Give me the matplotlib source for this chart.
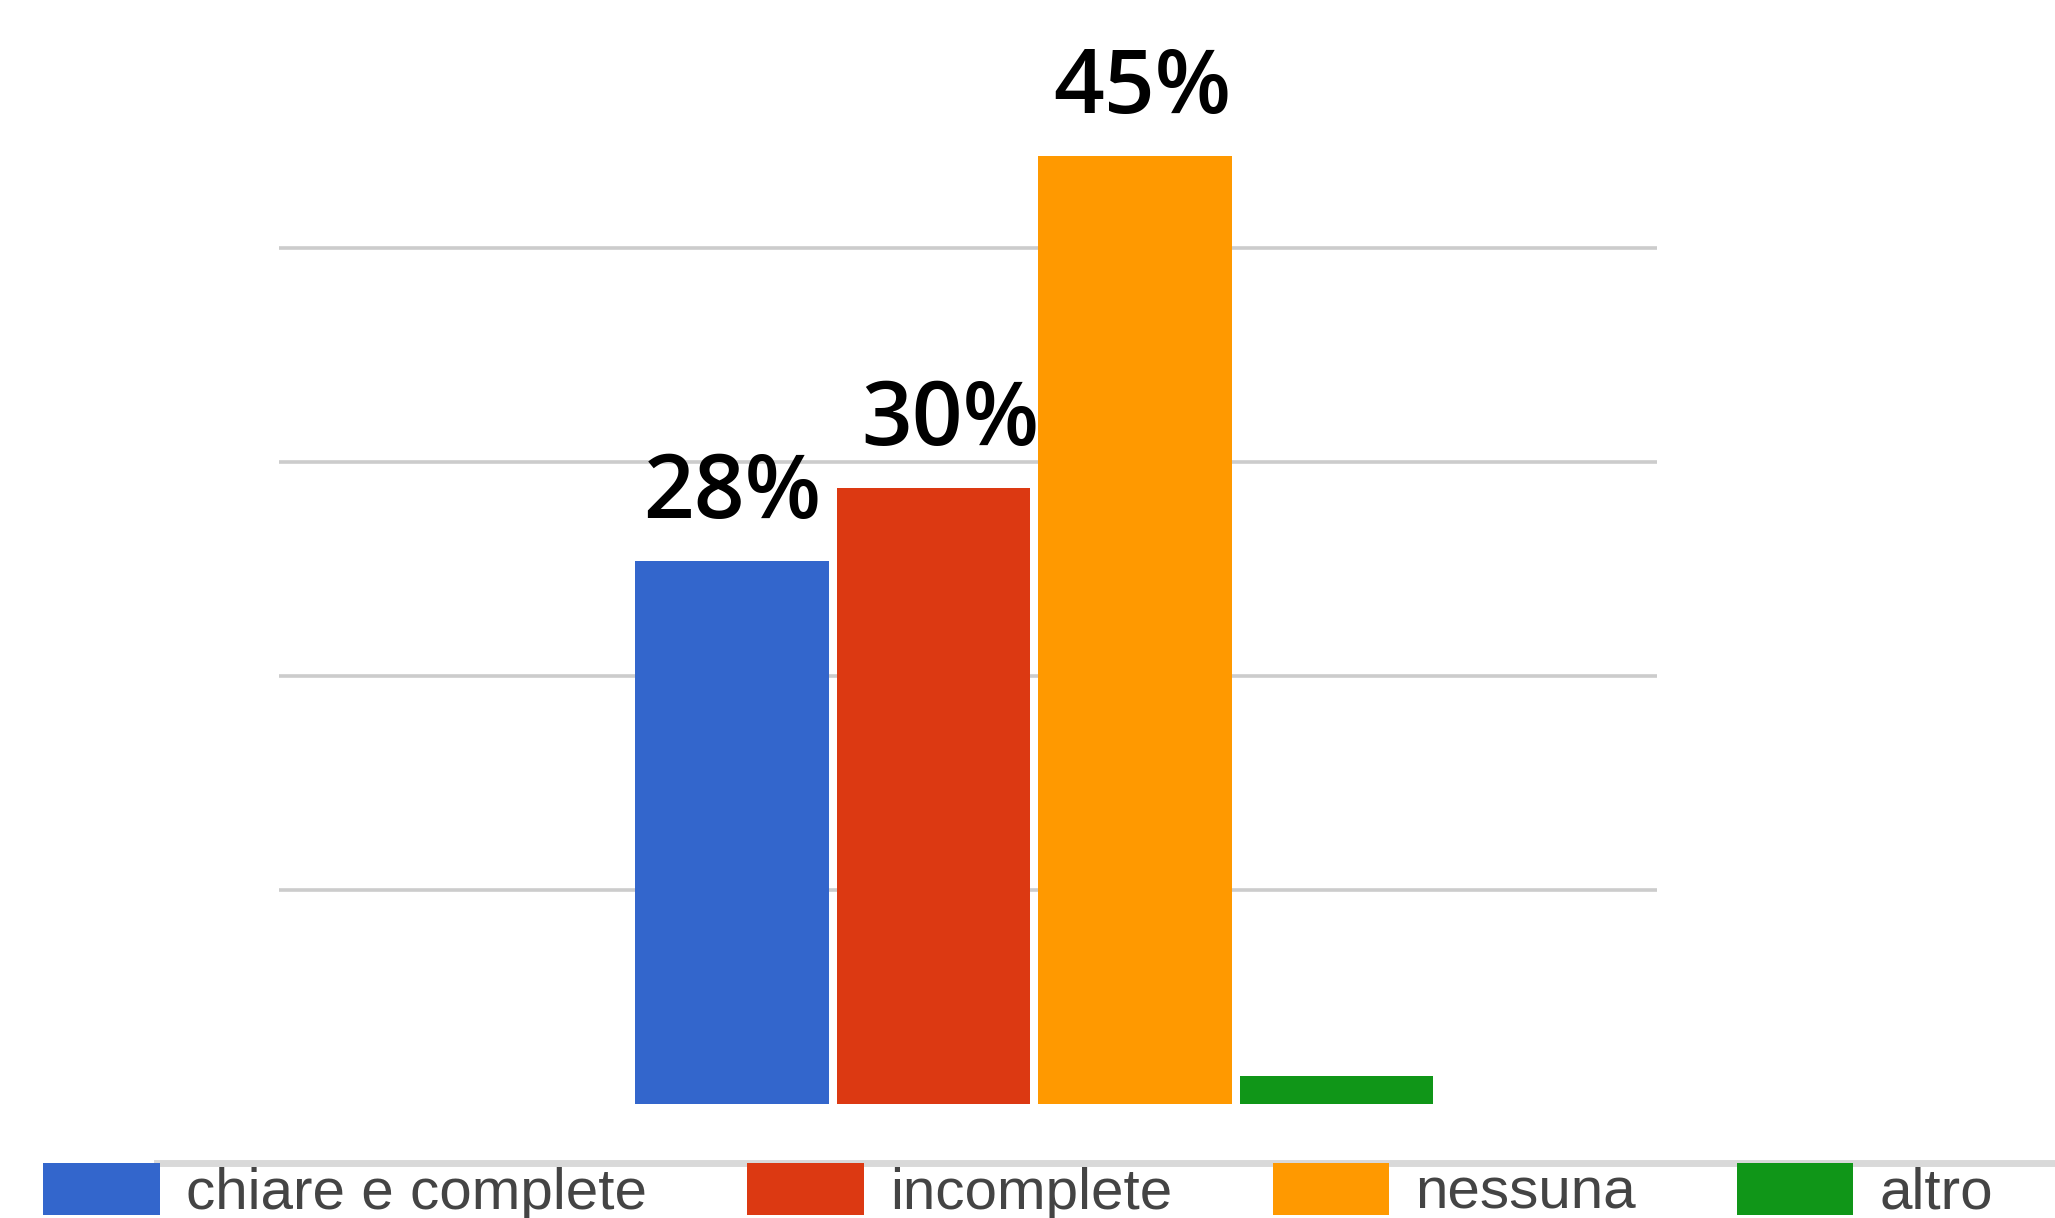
''' Risposte: chiare e complete / incomplete / nessuna / altro '''
import matplotlib
matplotlib.use('Agg')
import matplotlib.pyplot as plt
from matplotlib.lines import Line2D

categories = ['chiare e complete', 'incomplete', 'nessuna', 'altro']
values = [25.4, 28.8, 44.3, 1.3]
labels = ['28%', '30%', '45%', '']
colors = ['#3366CC', '#DC3912', '#FF9900', '#109618']
grid_ticks = [10, 20, 30, 40]


def main():
    fig = plt.figure(figsize=(20.55, 12.18), dpi=100)
    ax = fig.add_axes([279 / 2055, 114 / 1218, 1378 / 2055, 1104 / 1218])

    x = list(range(len(categories)))
    bars = ax.bar(x, values, width=0.96, color=colors, zorder=2,
                  label=categories)

    # percentuali sopra le barre (spostate un po' come nell'originale)
    label_dx = [0, 12, 5, 0]
    for xi, v, lab, dx in zip(x, values, labels, label_dx):
        if lab:
            ax.annotate(lab, (xi, v), xytext=(dx, 31),
                        textcoords='offset points', ha='center',
                        va='baseline', fontsize=64, fontweight=600,
                        family=['Open Sans', 'DejaVu Sans'], color='black')

    ax.set_xlim(-2.248, 4.59)
    ax.set_ylim(0, 51.6)
    ax.set_yticks(grid_ticks)
    ax.set_xticks([])
    ax.yaxis.grid(True, color='#cccccc', linewidth=2.6, zorder=0)
    ax.tick_params(axis='y', length=0, labelleft=False)
    for s in ax.spines.values():
        s.set_visible(False)
    ax.set_axisbelow(True)

    # linea grigia dietro la legenda
    fig.add_artist(Line2D([157 / 2055, 1.0], [1 - 1163 / 1218] * 2,
                          transform=fig.transFigure, color='#d9d9d9',
                          linewidth=5, zorder=0))

    leg = fig.legend(bars, categories, loc='center left',
                     bbox_to_anchor=(43 / 2055, 1 - 1192 / 1218),
                     ncol=4, frameon=False, borderpad=0, borderaxespad=0,
                     handlelength=2.0, handleheight=0.98, handletextpad=0.45,
                     columnspacing=1.72,
                     prop={'family': ['Liberation Sans', 'DejaVu Sans'],
                           'size': 42})
    for t in leg.get_texts():
        t.set_color('#444444')

    fig.savefig('out.png', dpi=100)


if __name__ == "__main__":
    main()
